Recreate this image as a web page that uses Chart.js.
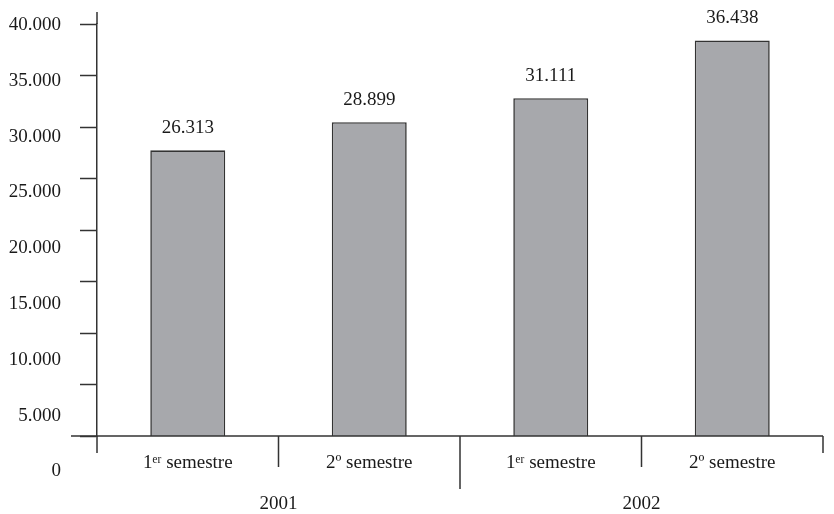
<!DOCTYPE html>
<html>
<head>
<meta charset="utf-8">
<script src="https://cdn.jsdelivr.net/npm/chart.js@4/dist/chart.umd.min.js"></script>
<style>
  html, body { margin: 0; padding: 0; background: #ffffff; }
  #wrap { width: 834px; height: 514px; }
</style>
</head>
<body>
<div id="wrap"><canvas id="c" width="834" height="514"></canvas></div>
<script>
// ---- data ----
const semesters = ['1ᵉʳ semestre', '2º semestre', '1ᵉʳ semestre', '2º semestre'];
const years = ['2001', '2002'];
const values = [26313, 28899, 31111, 36438];
const yTickValues = [0, 5000, 10000, 15000, 20000, 25000, 30000, 35000, 40000];

// ---- styling ----
const FONT_FAMILY = '"Liberation Serif", "DejaVu Serif", serif';
const FONT_SIZE = 19;
const TEXT_COLOR = '#1a1a1a';
const LINE_COLOR = '#333333';

function fmt(v) {
  return String(v).replace(/\B(?=(\d{3})+(?!\d))/g, '.');
}

const decor = {
  id: 'decor',
  afterDraw(chart, args, o) {
    const { ctx, chartArea: ca, scales } = chart;
    const y = scales.y, x = scales.x;
    ctx.save();
    ctx.strokeStyle = o.lineColor;
    ctx.lineWidth = o.lineWidth;
    const y0 = y.getPixelForValue(0);
    ctx.beginPath();
    ctx.moveTo(ca.left - o.baseExtend, y0);
    ctx.lineTo(ca.right, y0);
    ctx.moveTo(ca.left, ca.top - o.topExtend);
    ctx.lineTo(ca.left, ca.top);
    const n = x.ticks.length;
    for (let i = 0; i <= n; i++) {
      let bx;
      if (i === 0) bx = ca.left;
      else if (i === n) bx = ca.right;
      else bx = (x.getPixelForValue(i - 1) + x.getPixelForValue(i)) / 2;
      ctx.moveTo(bx, y0);
      ctx.lineTo(bx, y0 + o.dividerLengths[i]);
    }
    ctx.stroke();

    ctx.fillStyle = o.textColor;
    ctx.font = o.font;
    ctx.textAlign = 'right';
    ctx.textBaseline = 'middle';
    y.ticks.forEach(t => {
      const frac = (y.max - t.value) / (y.max - y.min);
      const py = y.getPixelForValue(t.value) + o.labelDriftTop + frac * (o.labelDriftBottom - o.labelDriftTop);
      ctx.fillText(fmt(t.value), ca.left - o.labelGap, py);
    });

    ctx.textAlign = 'center';
    const meta = chart.getDatasetMeta(0);
    meta.data.forEach((bar, i) => {
      ctx.fillText(fmt(chart.data.datasets[0].data[i]), bar.x, bar.y - o.valueGap);
    });
    ctx.restore();
  }
};

new Chart(document.getElementById('c'), {
  type: 'bar',
  data: {
    labels: semesters,
    datasets: [{
      data: values,
      yAxisID: 'yBar',
      xAxisID: 'x',
      backgroundColor: '#a7a8ac',
      borderColor: '#333333',
      borderWidth: 1.6,
      borderSkipped: 'bottom',
      categoryPercentage: 1.0,
      barPercentage: 0.413
    }]
  },
  options: {
    responsive: false,
    animation: false,
    devicePixelRatio: 1,
    layout: { padding: { left: 80, right: 11, top: 24, bottom: 0 } },
    plugins: {
      legend: { display: false },
      tooltip: { enabled: false },
      decor: {
        lineColor: LINE_COLOR,
        lineWidth: 1.5,
        baseExtend: 26,
        topExtend: 12,
        dividerLengths: [17, 31, 53, 31, 17],
        textColor: TEXT_COLOR,
        font: FONT_SIZE + 'px ' + FONT_FAMILY,
        labelGap: 36,
        labelDriftTop: 1,
        labelDriftBottom: 35.5,
        valueGap: 22
      }
    },
    scales: {
      x: {
        type: 'category',
        position: 'bottom',
        offset: true,
        grid: { display: false, drawTicks: false, tickLength: 0 },
        border: { display: false },
        afterFit: (s) => { s.height = 37; },
        ticks: {
          padding: 18,
          color: TEXT_COLOR,
          maxRotation: 0,
          autoSkip: false,
          font: { family: FONT_FAMILY, size: FONT_SIZE, lineHeight: 1 }
        }
      },
      x2: {
        type: 'category',
        labels: years,
        position: 'bottom',
        offset: true,
        grid: { display: false, drawTicks: false, tickLength: 0 },
        border: { display: false },
        afterFit: (s) => { s.height = 41; },
        ticks: {
          padding: 22,
          color: TEXT_COLOR,
          maxRotation: 0,
          autoSkip: false,
          font: { family: FONT_FAMILY, size: FONT_SIZE, lineHeight: 1 }
        }
      },
      y: {
        type: 'linear',
        position: 'left',
        min: yTickValues[0],
        max: yTickValues[yTickValues.length - 1],
        afterBuildTicks: (scale) => { scale.ticks = yTickValues.map(v => ({ value: v })); },
        ticks: { display: false, stepSize: 5000 },
        grid: { drawOnChartArea: false, drawTicks: true, tickLength: 17, tickColor: LINE_COLOR, tickWidth: 1.5 },
        border: { display: true, color: LINE_COLOR, width: 1.5 }
      },
      yBar: {
        type: 'linear',
        display: false,
        min: 0,
        max: 37950
      }
    }
  },
  plugins: [decor]
});
</script>
</body>
</html>
